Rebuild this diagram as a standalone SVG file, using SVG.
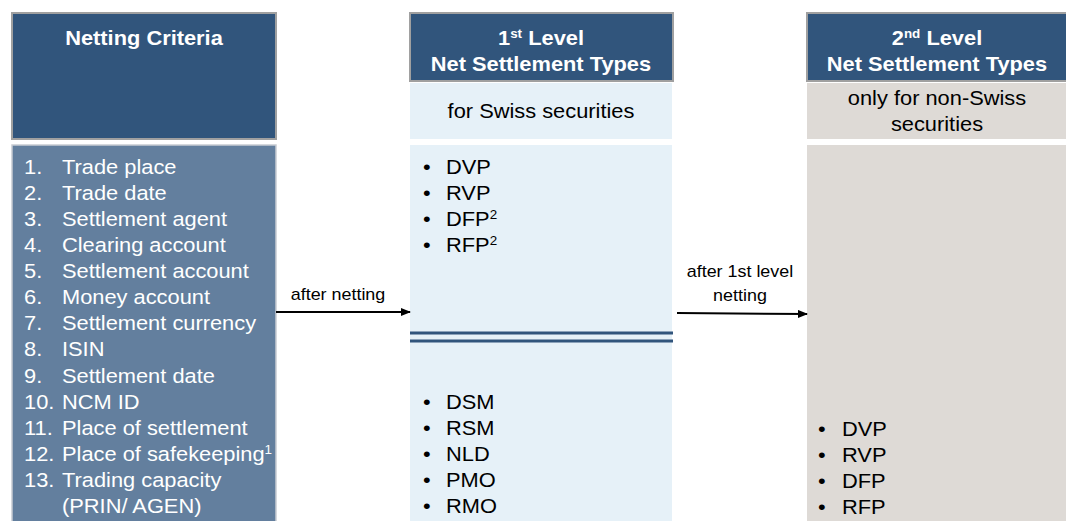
<svg xmlns="http://www.w3.org/2000/svg" width="1066" height="521" viewBox="0 0 1066 521">
<defs>
<marker id="ah" markerWidth="10" markerHeight="8" refX="9" refY="4" orient="auto" markerUnits="userSpaceOnUse">
<path d="M0,0 L10,4 L0,8 z" fill="#000"/>
</marker>
<style>
.hdr{fill:#31557c;stroke:#a0a0a0;stroke-width:2}
.ht{font-family:"Liberation Sans",Arial,sans-serif;font-size:19.5px;font-weight:bold;fill:#fff;text-anchor:middle}
.t{font-family:"Liberation Sans",Arial,sans-serif;font-size:19.5px;fill:#000}
.w{font-family:"Liberation Sans",Arial,sans-serif;font-size:19.5px;fill:#fff}
.c{text-anchor:middle}
.s{font-family:"Liberation Sans",Arial,sans-serif;font-size:16px;fill:#000;text-anchor:middle}
.sup{font-size:12px}
</style>
</defs>
<rect width="1066" height="521" fill="#fff"/>
<g id="netting-criteria">
<rect class="hdr" x="12" y="13" width="264" height="126"/>
<rect x="12" y="145" width="264" height="380" fill="#637f9e" stroke="#c8ccd2" stroke-width="1.5"/>
<g transform="scale(1.12,1)">
<text class="ht" x="128.57" y="45">Netting Criteria</text>
<g class="w">
<text x="21.43" y="174">1.</text><text x="55.36" y="174">Trade place</text>
<text x="21.43" y="200">2.</text><text x="55.36" y="200">Trade date</text>
<text x="21.43" y="226">3.</text><text x="55.36" y="226">Settlement agent</text>
<text x="21.43" y="252">4.</text><text x="55.36" y="252">Clearing account</text>
<text x="21.43" y="278">5.</text><text x="55.36" y="278">Settlement account</text>
<text x="21.43" y="304">6.</text><text x="55.36" y="304">Money account</text>
<text x="21.43" y="330">7.</text><text x="55.36" y="330">Settlement currency</text>
<text x="21.43" y="356">8.</text><text x="55.36" y="356">ISIN</text>
<text x="21.43" y="383">9.</text><text x="55.36" y="383">Settlement date</text>
<text x="21.43" y="409">10.</text><text x="55.36" y="409">NCM ID</text>
<text x="21.43" y="435">11.</text><text x="55.36" y="435">Place of settlement</text>
<text x="21.43" y="461">12.</text><text x="55.36" y="461">Place of safekeeping<tspan class="sup" dy="-7">1</tspan></text>
<text x="21.43" y="487">13.</text><text x="55.36" y="487">Trading capacity</text>
<text x="55.36" y="513">(PRIN/ AGEN)</text>
</g>
</g>
</g>
<g id="first-level">
<rect class="hdr" x="410" y="13" width="263" height="68"/>
<rect x="410" y="83" width="262" height="56" fill="#e6f1f8"/>
<rect x="410" y="145" width="262" height="380" fill="#e6f1f8"/>
<line x1="410" y1="333" x2="673" y2="333" stroke="#31557c" stroke-width="3"/>
<line x1="410" y1="341" x2="673" y2="341" stroke="#31557c" stroke-width="3"/>
<g transform="scale(1.12,1)">
<text class="ht" x="483.04" y="45">1<tspan class="sup" dy="-7">st</tspan><tspan dy="7"> Level</tspan></text>
<text class="ht" x="483.04" y="71">Net Settlement Types</text>
<text class="t c" x="483.04" y="118">for Swiss securities</text>
<g class="t">
<text x="377.7" y="174">•</text><text x="398.21" y="174">DVP</text>
<text x="377.7" y="200">•</text><text x="398.21" y="200">RVP</text>
<text x="377.7" y="226">•</text><text x="398.21" y="226">DFP<tspan class="sup" dy="-7">2</tspan></text>
<text x="377.7" y="252">•</text><text x="398.21" y="252">RFP<tspan class="sup" dy="-7">2</tspan></text>
<text x="377.7" y="409">•</text><text x="398.21" y="409">DSM</text>
<text x="377.7" y="435">•</text><text x="398.21" y="435">RSM</text>
<text x="377.7" y="461">•</text><text x="398.21" y="461">NLD</text>
<text x="377.7" y="487">•</text><text x="398.21" y="487">PMO</text>
<text x="377.7" y="513">•</text><text x="398.21" y="513">RMO</text>
</g>
</g>
</g>
<g id="second-level">
<rect class="hdr" x="807" y="13" width="262" height="68"/>
<rect x="807" y="83" width="260" height="56" fill="#dedad6"/>
<rect x="807" y="145" width="260" height="380" fill="#dedad6"/>
<g transform="scale(1.12,1)">
<text class="ht" x="836.61" y="45">2<tspan class="sup" dy="-7">nd</tspan><tspan dy="7"> Level</tspan></text>
<text class="ht" x="836.61" y="71">Net Settlement Types</text>
<text class="t c" x="836.61" y="105">only for non-Swiss</text>
<text class="t c" x="836.61" y="131">securities</text>
<g class="t">
<text x="730.4" y="436">•</text><text x="751.79" y="436">DVP</text>
<text x="730.4" y="462">•</text><text x="751.79" y="462">RVP</text>
<text x="730.4" y="488">•</text><text x="751.79" y="488">DFP</text>
<text x="730.4" y="514">•</text><text x="751.79" y="514">RFP</text>
</g>
</g>
</g>
<g id="connectors">
<line x1="276" y1="312" x2="410" y2="312" stroke="#000" stroke-width="2" marker-end="url(#ah)"/>
<line x1="677" y1="313" x2="807" y2="314" stroke="#000" stroke-width="2" marker-end="url(#ah)"/>
<g transform="scale(1.12,1)">
<text class="s" x="301.79" y="300">after netting</text>
<text class="s" x="660.71" y="277">after 1st level</text>
<text class="s" x="660.71" y="301">netting</text>
</g>
</g>
</svg>
